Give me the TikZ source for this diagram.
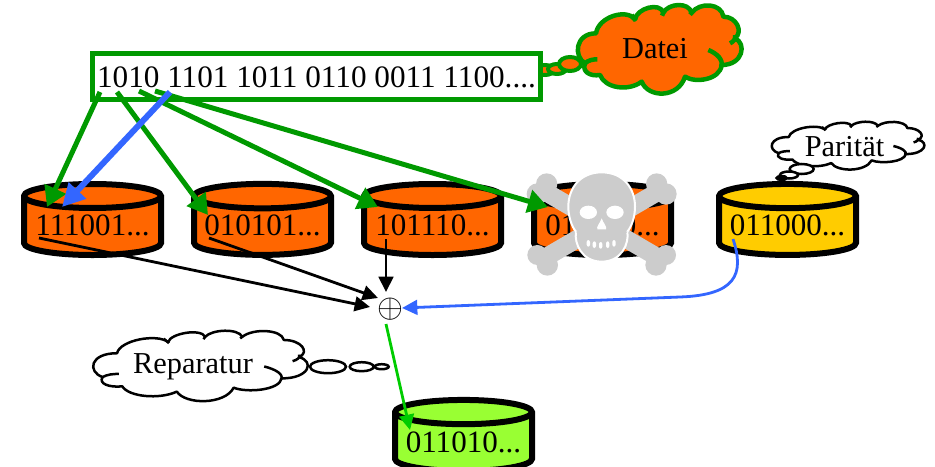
\documentclass[tikz,border=0pt]{standalone}
\usepackage{fontspec}
\usepackage{graphicx}
\setmainfont{Liberation Serif}
\usetikzlibrary{shapes.geometric,arrows.meta}
\definecolor{dgreen}{HTML}{009900}
\definecolor{lgreen}{HTML}{00CC00}
\definecolor{orng}{HTML}{FF6600}
\definecolor{yell}{HTML}{FFCC00}
\definecolor{lime}{HTML}{99FF33}
\definecolor{blu}{HTML}{3366FF}
\definecolor{bonegray}{HTML}{CCCCCC}
\tikzset{
  px/.style={line width=#1*0.75pt},
  disk/.style={cylinder,shape border rotate=90,draw=black,px=6,fill=#1,
    minimum width=102.75pt,minimum height=53.25pt,shape aspect=0.21,inner sep=0pt,
    text depth=2pt,font=\fontsize{23.3}{24}\selectfont,text=black},
  bigtext/.style={font=\fontsize{22.8}{24}\selectfont,inner sep=0pt},
  thickgreen/.style={draw=dgreen,px=5,-{Triangle[length=15pt,width=17pt,fill=dgreen]}},
  thickblue/.style={draw=blu,px=6,-{Triangle[length=17pt,width=17pt,fill=blu]}},
  thinblack/.style={draw=black,px=2.8,-{Triangle[length=11.5pt,width=11pt]}},
  thinblue/.style={draw=blu,px=2.8,-{Triangle[length=11.5pt,width=11pt]}},
  thingreen/.style={draw=lgreen,px=2.8,-{Triangle[length=11.5pt,width=11pt]}},
}
\newcommand\cloudfig[6]{%
  \pgfmathsetmacro\sxx{#3*0.75}\pgfmathsetmacro\syy{#4*0.75}%
  \begin{scope}[shift={({#1-170*#3},{#2-15*#4})},x=\sxx pt,y=-\syy pt,line join=round]
    \filldraw[draw=#5,fill=#6]
      (195,190) .. controls (160,170) and (165,100) .. (228,100)
      .. controls (235,50) and (320,25) .. (345,58)
      .. controls (350,25) and (420,5) .. (430,38)
      .. controls (445,10) and (505,5) .. (515,38)
      .. controls (540,5) and (605,10) .. (610,50)
      .. controls (650,50) and (670,95) .. (645,115)
      .. controls (680,130) and (670,195) .. (605,195)
      .. controls (600,240) and (525,250) .. (495,230)
      .. controls (475,295) and (385,295) .. (365,245)
      .. controls (325,275) and (255,265) .. (240,225)
      .. controls (210,230) and (185,215) .. (195,190) -- cycle;
    \draw[draw=#5] (195,190) .. controls (205,180) and (220,178) .. (232,178);
    \draw[draw=#5] (335,45) -- (347,62);
    \draw[draw=#5] (430,38) -- (426,47);
    \draw[draw=#5] (515,38) -- (510,44);
    \draw[draw=#5] (645,105) .. controls (648,118) and (640,125) .. (630,130);
    \draw[draw=#5] (565,150) .. controls (590,160) and (612,180) .. (603,200);
  \end{scope}}
\begin{document}
\begin{tikzpicture}[x=0.75pt,y=-0.75pt]
\useasboundingbox (0,0) rectangle (935,467);
\clip (0,0) rectangle (935,467);
% disks
\node[disk=orng] (d1) at (92.5,227) {111001...};
\node[disk=orng] (d2) at (262.5,227) {010101...};
\node[disk=orng] (d3) at (432.5,227) {101110...};
\node[disk=orng] (d4) at (602.5,227) {011100...};
\node[disk=yell] (d5) at (787.5,227) {011000...};
\node[disk=lime] (d6) at (463.5,443) {011010...};
% skull
\begin{scope}[shift={(520,0)},x=0.25pt,y=-0.25pt]
  \draw[bonegray,line width=13.5pt] (70,572) -- (420,776);
  \draw[bonegray,line width=13.5pt] (420,572) -- (70,776);
  \fill[bonegray] (80,552) circle (32) (52,582) circle (32)
    (410,552) circle (32) (438,582) circle (32)
    (52,765) circle (30) (82,795) circle (32)
    (438,765) circle (30) (408,795) circle (32);
  \filldraw[fill=bonegray,draw=white,px=2]
    (245,517) .. controls (310,517) and (345,565) .. (345,620)
    .. controls (345,650) and (335,680) .. (322,695)
    .. controls (328,730) and (305,785) .. (245,785)
    .. controls (185,785) and (162,730) .. (168,695)
    .. controls (155,680) and (145,650) .. (145,620)
    .. controls (145,565) and (180,517) .. (245,517) -- cycle;
  \fill[bonegray] (168,695) -- (322,695) -- (300,720) -- (190,720) -- cycle;
  \fill[white] (205,637) ellipse (26 and 20) (285,637) ellipse (26 and 20);
  \fill[white] (245,655) .. controls (250,670) and (262,680) .. (258,688) -- (232,688) .. controls (228,680) and (240,670) .. (245,655) -- cycle;
  \foreach \tx/\ty in {205/720,223/724,242/726,263/724,282/720}
    \fill[white,rounded corners=1.5pt] (\tx-5,\ty) rectangle (\tx+5,\ty+20);
\end{scope}
% clouds
\draw[draw=dgreen,fill=orng,px=4] (545,70) ellipse (9 and 5);
\draw[draw=dgreen,fill=orng,px=4] (557,69) ellipse (9 and 5);
\draw[draw=dgreen,fill=orng,px=4] (570,64) ellipse (11 and 7);
\begin{scope}[px=4.5]\cloudfig{576.7}{5}{0.3333}{0.3333}{dgreen}{orng}\end{scope}
\begin{scope}[px=2.5]
\cloudfig{770.7}{121.7}{0.3106}{0.18}{black}{white}
\draw[fill=white] (801.7,169) ellipse (12 and 5);
\draw[fill=white] (789,175) ellipse (9 and 3.5);
\draw[fill=black] (781.7,178) ellipse (5 and 2);
\cloudfig{91.7}{330.7}{0.4367}{0.265}{black}{white}
\draw[fill=white] (328,366.7) ellipse (18 and 6.5);
\draw[fill=white] (361.7,366.7) ellipse (12 and 4.5);
\draw[fill=white] (381.7,366.7) ellipse (7 and 2.5);
\end{scope}
\node[bigtext] (datei) at (655,49) {Datei};
\node[bigtext] (paritaet) at (844.5,147) {Parität};
\node[bigtext] (reparatur) at (193,367) {Reparatur};
% data box
\node[draw=dgreen,px=5,fill=white,minimum width=336pt,minimum height=34.5pt,inner sep=0pt,
  text height=17.25pt,text depth=0pt,font=\fontsize{23.4}{24}\selectfont] (box) at (316.5,76.5)
  {1010 1101 1011 0110 0011 1100....};
% xor
\node[inner sep=0pt] (xor) at (390,309) {\scalebox{2.5}{$\oplus$}};
% connectors
\draw[thickgreen] ([shift={(-216.5,15.5)}]box.center) -- ([shift={(-45.5,-20)}]d1.center);
\draw[thickgreen] ([shift={(-199.5,15.5)}]box.center) -- ([shift={(-54.5,-12)}]d2.center);
\draw[thickgreen] ([shift={(-177.5,14.5)}]box.center) -- ([shift={(-54.5,-20)}]d3.center);
\draw[thickgreen] ([shift={(-161.5,14.5)}]box.center) -- ([shift={(-54.5,-20)}]d4.center);
\draw[thickblue] ([shift={(-146.5,15.5)}]box.center) -- ([shift={(-30.5,-20)}]d1.center);
\draw[thinblack] ([shift={(-53.5,11)}]d1.center) -- ([shift={(-20,-2)}]xor.center);
\draw[thinblack] ([shift={(-53.5,11)}]d2.center) -- ([shift={(-12,-11)}]xor.center);
\draw[thinblack] ([shift={(-46.5,12)}]d3.center) -- ([shift={(-4,-17)}]xor.center);
\draw[thinblue] ([shift={(-54.5,12)}]d5.center) .. controls (745,275) and (735,295) .. (680,297) -- ([shift={(12,-1)}]xor.center);
\draw[thingreen] ([shift={(-4,15)}]xor.center) -- ([shift={(-53.5,-13)}]d6.center);
\end{tikzpicture}
\end{document}
